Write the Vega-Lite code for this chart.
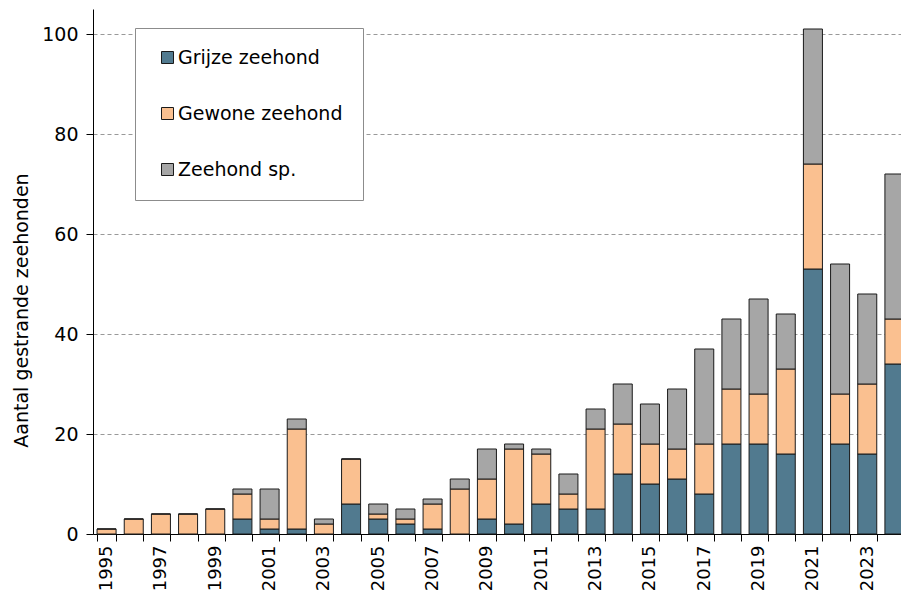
{
  "$schema": "https://vega.github.io/schema/vega-lite/v6.json",
  "autosize": "none",
  "width": 815,
  "height": 525,
  "padding": {"left": 93, "top": 9, "right": 0, "bottom": 64},
  "background": "white",
  "config": {
    "font": "DejaVu Sans",
    "view": {"stroke": null}
  },
  "data": {
    "values": [
      {"year": 1995, "soort": "Grijze zeehond", "o": 1, "n": 0},
      {"year": 1995, "soort": "Gewone zeehond", "o": 2, "n": 1},
      {"year": 1995, "soort": "Zeehond sp.", "o": 3, "n": 0},
      {"year": 1996, "soort": "Grijze zeehond", "o": 1, "n": 0},
      {"year": 1996, "soort": "Gewone zeehond", "o": 2, "n": 3},
      {"year": 1996, "soort": "Zeehond sp.", "o": 3, "n": 0},
      {"year": 1997, "soort": "Grijze zeehond", "o": 1, "n": 0},
      {"year": 1997, "soort": "Gewone zeehond", "o": 2, "n": 4},
      {"year": 1997, "soort": "Zeehond sp.", "o": 3, "n": 0},
      {"year": 1998, "soort": "Grijze zeehond", "o": 1, "n": 0},
      {"year": 1998, "soort": "Gewone zeehond", "o": 2, "n": 4},
      {"year": 1998, "soort": "Zeehond sp.", "o": 3, "n": 0},
      {"year": 1999, "soort": "Grijze zeehond", "o": 1, "n": 0},
      {"year": 1999, "soort": "Gewone zeehond", "o": 2, "n": 5},
      {"year": 1999, "soort": "Zeehond sp.", "o": 3, "n": 0},
      {"year": 2000, "soort": "Grijze zeehond", "o": 1, "n": 3},
      {"year": 2000, "soort": "Gewone zeehond", "o": 2, "n": 5},
      {"year": 2000, "soort": "Zeehond sp.", "o": 3, "n": 1},
      {"year": 2001, "soort": "Grijze zeehond", "o": 1, "n": 1},
      {"year": 2001, "soort": "Gewone zeehond", "o": 2, "n": 2},
      {"year": 2001, "soort": "Zeehond sp.", "o": 3, "n": 6},
      {"year": 2002, "soort": "Grijze zeehond", "o": 1, "n": 1},
      {"year": 2002, "soort": "Gewone zeehond", "o": 2, "n": 20},
      {"year": 2002, "soort": "Zeehond sp.", "o": 3, "n": 2},
      {"year": 2003, "soort": "Grijze zeehond", "o": 1, "n": 0},
      {"year": 2003, "soort": "Gewone zeehond", "o": 2, "n": 2},
      {"year": 2003, "soort": "Zeehond sp.", "o": 3, "n": 1},
      {"year": 2004, "soort": "Grijze zeehond", "o": 1, "n": 6},
      {"year": 2004, "soort": "Gewone zeehond", "o": 2, "n": 9},
      {"year": 2004, "soort": "Zeehond sp.", "o": 3, "n": 0},
      {"year": 2005, "soort": "Grijze zeehond", "o": 1, "n": 3},
      {"year": 2005, "soort": "Gewone zeehond", "o": 2, "n": 1},
      {"year": 2005, "soort": "Zeehond sp.", "o": 3, "n": 2},
      {"year": 2006, "soort": "Grijze zeehond", "o": 1, "n": 2},
      {"year": 2006, "soort": "Gewone zeehond", "o": 2, "n": 1},
      {"year": 2006, "soort": "Zeehond sp.", "o": 3, "n": 2},
      {"year": 2007, "soort": "Grijze zeehond", "o": 1, "n": 1},
      {"year": 2007, "soort": "Gewone zeehond", "o": 2, "n": 5},
      {"year": 2007, "soort": "Zeehond sp.", "o": 3, "n": 1},
      {"year": 2008, "soort": "Grijze zeehond", "o": 1, "n": 0},
      {"year": 2008, "soort": "Gewone zeehond", "o": 2, "n": 9},
      {"year": 2008, "soort": "Zeehond sp.", "o": 3, "n": 2},
      {"year": 2009, "soort": "Grijze zeehond", "o": 1, "n": 3},
      {"year": 2009, "soort": "Gewone zeehond", "o": 2, "n": 8},
      {"year": 2009, "soort": "Zeehond sp.", "o": 3, "n": 6},
      {"year": 2010, "soort": "Grijze zeehond", "o": 1, "n": 2},
      {"year": 2010, "soort": "Gewone zeehond", "o": 2, "n": 15},
      {"year": 2010, "soort": "Zeehond sp.", "o": 3, "n": 1},
      {"year": 2011, "soort": "Grijze zeehond", "o": 1, "n": 6},
      {"year": 2011, "soort": "Gewone zeehond", "o": 2, "n": 10},
      {"year": 2011, "soort": "Zeehond sp.", "o": 3, "n": 1},
      {"year": 2012, "soort": "Grijze zeehond", "o": 1, "n": 5},
      {"year": 2012, "soort": "Gewone zeehond", "o": 2, "n": 3},
      {"year": 2012, "soort": "Zeehond sp.", "o": 3, "n": 4},
      {"year": 2013, "soort": "Grijze zeehond", "o": 1, "n": 5},
      {"year": 2013, "soort": "Gewone zeehond", "o": 2, "n": 16},
      {"year": 2013, "soort": "Zeehond sp.", "o": 3, "n": 4},
      {"year": 2014, "soort": "Grijze zeehond", "o": 1, "n": 12},
      {"year": 2014, "soort": "Gewone zeehond", "o": 2, "n": 10},
      {"year": 2014, "soort": "Zeehond sp.", "o": 3, "n": 8},
      {"year": 2015, "soort": "Grijze zeehond", "o": 1, "n": 10},
      {"year": 2015, "soort": "Gewone zeehond", "o": 2, "n": 8},
      {"year": 2015, "soort": "Zeehond sp.", "o": 3, "n": 8},
      {"year": 2016, "soort": "Grijze zeehond", "o": 1, "n": 11},
      {"year": 2016, "soort": "Gewone zeehond", "o": 2, "n": 6},
      {"year": 2016, "soort": "Zeehond sp.", "o": 3, "n": 12},
      {"year": 2017, "soort": "Grijze zeehond", "o": 1, "n": 8},
      {"year": 2017, "soort": "Gewone zeehond", "o": 2, "n": 10},
      {"year": 2017, "soort": "Zeehond sp.", "o": 3, "n": 19},
      {"year": 2018, "soort": "Grijze zeehond", "o": 1, "n": 18},
      {"year": 2018, "soort": "Gewone zeehond", "o": 2, "n": 11},
      {"year": 2018, "soort": "Zeehond sp.", "o": 3, "n": 14},
      {"year": 2019, "soort": "Grijze zeehond", "o": 1, "n": 18},
      {"year": 2019, "soort": "Gewone zeehond", "o": 2, "n": 10},
      {"year": 2019, "soort": "Zeehond sp.", "o": 3, "n": 19},
      {"year": 2020, "soort": "Grijze zeehond", "o": 1, "n": 16},
      {"year": 2020, "soort": "Gewone zeehond", "o": 2, "n": 17},
      {"year": 2020, "soort": "Zeehond sp.", "o": 3, "n": 11},
      {"year": 2021, "soort": "Grijze zeehond", "o": 1, "n": 53},
      {"year": 2021, "soort": "Gewone zeehond", "o": 2, "n": 21},
      {"year": 2021, "soort": "Zeehond sp.", "o": 3, "n": 27},
      {"year": 2022, "soort": "Grijze zeehond", "o": 1, "n": 18},
      {"year": 2022, "soort": "Gewone zeehond", "o": 2, "n": 10},
      {"year": 2022, "soort": "Zeehond sp.", "o": 3, "n": 26},
      {"year": 2023, "soort": "Grijze zeehond", "o": 1, "n": 16},
      {"year": 2023, "soort": "Gewone zeehond", "o": 2, "n": 14},
      {"year": 2023, "soort": "Zeehond sp.", "o": 3, "n": 18},
      {"year": 2024, "soort": "Grijze zeehond", "o": 1, "n": 34},
      {"year": 2024, "soort": "Gewone zeehond", "o": 2, "n": 9},
      {"year": 2024, "soort": "Zeehond sp.", "o": 3, "n": 29}
    ]
  },
  "mark": {"type": "bar", "stroke": "#1a1a1a", "strokeWidth": 1},
  "encoding": {
    "x": {
      "field": "year",
      "type": "ordinal",
      "scale": {"paddingInner": 0.3, "paddingOuter": 0.15},
      "axis": {
        "title": null,
        "labelAngle": -90,
        "labelAlign": "right",
        "labelBaseline": "middle",
        "labelFontSize": 18,
        "labelColor": "#000",
        "labelPadding": 4,
        "labelExpr": "datum.value % 2 == 1 ? datum.label : ''",
        "tickBand": "extent",
        "tickSize": 7,
        "tickColor": "#000",
        "domainColor": "#000",
        "labelOverlap": false
      }
    },
    "y": {
      "field": "n",
      "type": "quantitative",
      "stack": "zero",
      "scale": {"domain": [0, 105], "nice": false},
      "axis": {
        "title": "Aantal gestrande zeehonden",
        "titleFontSize": 19,
        "titleFontWeight": "normal",
        "titleColor": "#000",
        "titlePadding": 10,
        "titleY": 301,
        "values": [0, 20, 40, 60, 80, 100],
        "labelFontSize": 19,
        "labelColor": "#000",
        "labelPadding": 8,
        "tickSize": 7,
        "tickColor": "#000",
        "domainColor": "#000",
        "grid": true,
        "gridColor": "#999",
        "gridDash": [4, 3],
        "gridWidth": 1
      }
    },
    "color": {
      "field": "soort",
      "type": "nominal",
      "scale": {
        "domain": ["Grijze zeehond", "Gewone zeehond", "Zeehond sp."],
        "range": ["#517A8F", "#FAC090", "#A6A6A6"]
      },
      "legend": {
        "title": null,
        "orient": "none",
        "legendX": 42,
        "legendY": 19,
        "fillColor": "white",
        "strokeColor": "#8c8c8c",
        "padding": 20,
        "rowPadding": 36,
        "symbolType": "square",
        "symbolSize": 144,
        "symbolStrokeColor": "#1a1a1a",
        "symbolStrokeWidth": 1,
        "symbolOffset": 3,
        "labelOffset": 1,
        "labelFontSize": 19,
        "labelColor": "#000",
        "labelLimit": 300
      }
    },
    "order": {"field": "o", "type": "quantitative"}
  }
}
